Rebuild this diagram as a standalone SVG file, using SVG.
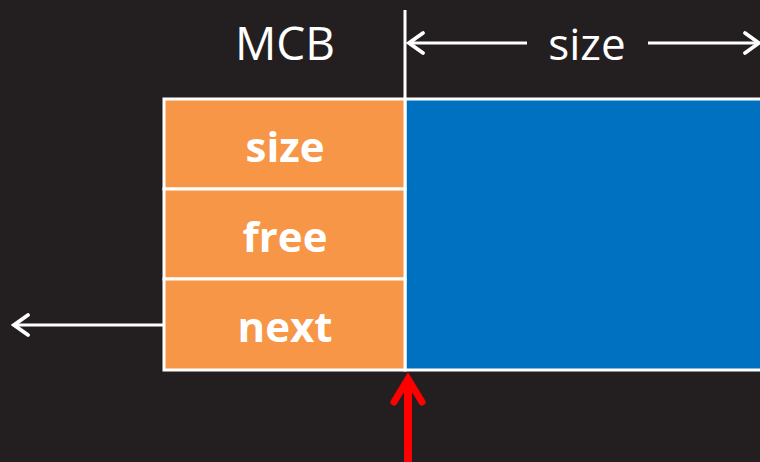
<svg xmlns="http://www.w3.org/2000/svg" width="760" height="462" viewBox="0 0 760 462">
<style>
.cell{fill:#f79646;stroke:#ffffff;stroke-width:3}
.blk{fill:#0070c0;stroke:#ffffff;stroke-width:3}
.lbl{font-family:"Open Sans","Liberation Sans",sans-serif;font-weight:bold;font-size:42px;fill:#ffffff;text-anchor:middle}
.hdr{font-family:"Open Sans","Liberation Sans",sans-serif;font-size:44px;fill:#ffffff;text-anchor:middle}
.wl{stroke:#ffffff;stroke-width:3;fill:none}
</style>
<defs>
<marker id="wa" viewBox="0 0 26 26" refX="23" refY="13" markerWidth="26" markerHeight="26" markerUnits="userSpaceOnUse" orient="auto">
<path d="M9,3 L23,13 L9,23" fill="none" stroke="#ffffff" stroke-width="3.8" stroke-linecap="round" stroke-linejoin="miter"/>
</marker>
</defs>
<rect width="760" height="462" fill="#231f20"/>
<g id="block">
<rect class="blk" x="405" y="99" width="360" height="271"/>
</g>
<g id="mcb-size">
<rect class="cell" x="164" y="99" width="241" height="90"/>
<text class="lbl" x="285" y="162">size</text>
</g>
<g id="mcb-free">
<rect class="cell" x="164" y="189" width="241" height="90"/>
<text class="lbl" x="285" y="252">free</text>
</g>
<g id="mcb-next">
<rect class="cell" x="164" y="279" width="241" height="91"/>
<text class="lbl" x="285" y="342">next</text>
</g>
<g id="labels">
<text class="hdr" x="285" y="60" style="font-size:46px">MCB</text>
<text class="hdr" x="587" y="60">size</text>
</g>
<g id="connectors">
<line class="wl" x1="405" y1="10" x2="405" y2="99"/>
<line class="wl" x1="527" y1="43" x2="409" y2="43" marker-end="url(#wa)"/>
<line class="wl" x1="648" y1="43" x2="759" y2="43" marker-end="url(#wa)"/>
<line class="wl" x1="164" y1="325" x2="14" y2="325" marker-end="url(#wa)"/>
<line x1="408" y1="462" x2="408" y2="380" stroke="#ff0000" stroke-width="8"/>
<path d="M394,402 L408,379 L422,402" fill="none" stroke="#ff0000" stroke-width="7" stroke-linecap="round" stroke-linejoin="miter"/>
</g>
</svg>
